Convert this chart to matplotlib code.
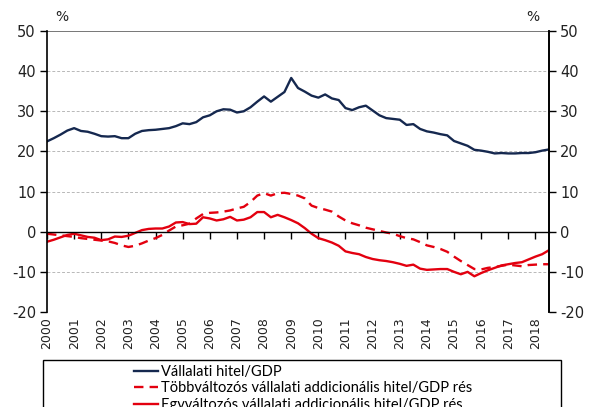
import numpy as np
import matplotlib.pyplot as plt
from matplotlib.patches import Rectangle

# quarterly data, 2000Q1 - 2018Q3
years = [str(y) for y in range(2000, 2019)]

hitel_gdp = [22.5, 23.3, 24.2, 25.2, 25.8, 25.1, 24.9, 24.4, 23.8, 23.7,
             23.8, 23.3, 23.3, 24.4, 25.1, 25.3, 25.4, 25.6, 25.8, 26.3,
             27.0, 26.8, 27.3, 28.5, 29.0, 30.0, 30.5, 30.4, 29.7, 30.0,
             31.0, 32.4, 33.7, 32.4, 33.6, 34.8, 38.3, 35.8, 34.9, 33.9,
             33.4, 34.2, 33.2, 32.8, 30.8, 30.3, 31.0, 31.4, 30.2, 29.0,
             28.3, 28.1, 27.9, 26.6, 26.8, 25.6, 25.0, 24.7, 24.3, 24.0,
             22.6, 22.0, 21.4, 20.4, 20.2, 19.9, 19.5, 19.6, 19.5, 19.5,
             19.6, 19.6, 19.8, 20.2, 20.5]

tobbvaltozos = [-0.5, -0.7, -0.9, -1.1, -1.3, -1.6, -1.8, -2.0, -2.2, -2.4,
                -2.8, -3.4, -3.8, -3.5, -2.9, -2.2, -1.6, -0.8, 0.3, 1.3,
                1.6, 2.0, 3.3, 4.4, 4.7, 4.8, 5.0, 5.3, 5.8, 6.2,
                7.4, 9.0, 9.6, 9.0, 9.6, 9.7, 9.4, 9.0, 8.3, 6.5,
                5.9, 5.5, 5.0, 3.8, 2.8, 2.1, 1.6, 1.0, 0.6, 0.2,
                -0.2, -0.5, -1.1, -1.6, -1.9, -2.6, -3.4, -3.8, -4.3, -5.0,
                -6.2, -7.3, -8.3, -9.3, -9.4, -9.0, -8.8, -8.5, -8.2, -8.4,
                -8.6, -8.3, -8.2, -8.1, -8.1]

egyvaltozos = [-2.5, -2.0, -1.4, -0.8, -0.5, -0.9, -1.3, -1.5, -2.1, -1.9,
               -1.2, -1.3, -1.0, -0.3, 0.4, 0.7, 0.8, 0.8, 1.3, 2.3,
               2.4, 1.9, 2.0, 3.6, 3.3, 2.8, 3.1, 3.7, 2.8, 3.0,
               3.6, 4.9, 4.9, 3.6, 4.2, 3.6, 2.9, 2.1, 0.9, -0.5,
               -1.6, -2.1, -2.7, -3.5, -4.9, -5.3, -5.6, -6.3, -6.8, -7.1,
               -7.3, -7.6, -8.0, -8.5, -8.2, -9.2, -9.5, -9.4, -9.3, -9.3,
               -10.0, -10.6, -10.0, -11.1, -10.3, -9.6, -9.0, -8.4, -8.1, -7.8,
               -7.6, -6.9, -6.2, -5.6, -4.6]

NAVY = '#15284f'
RED = '#e3000f'

x = np.arange(len(hitel_gdp))

fig = plt.figure(figsize=(5.93, 4.07), dpi=100)
ax = fig.add_axes([47/593, 1 - 312/407, 502/593, 281/407])

ax.plot(x, hitel_gdp, color=NAVY, lw=1.7, label='Vállalati hitel/GDP')
ax.plot(x, tobbvaltozos, color=RED, lw=1.7, dashes=(4, 2.6),
        label='Többváltozós vállalati addicionális hitel/GDP rés')
ax.plot(x, egyvaltozos, color=RED, lw=1.7,
        label='Egyváltozós vállalati addicionális hitel/GDP rés')

ax.set_xlim(0, len(x) - 1)
ax.set_ylim(-20, 50)

# grid
for v in [-20, -10, 10, 20, 30, 40]:
    ax.axhline(v, color='#b8b8b8', lw=0.7, ls=(0, (3, 2)), zorder=0)
ax.axhline(50, color='#606060', lw=1.2, zorder=0)

# x axis sits on zero line
ax.spines['bottom'].set_position(('data', 0))
ax.spines['bottom'].set_linewidth(1.0)
ax.spines['top'].set_visible(False)
ax.spines['left'].set_linewidth(1.2)
ax.spines['right'].set_linewidth(1.2)
ax.set_xticks(x[::4])
ax.tick_params(axis='x', direction='out', length=5, width=1, labelbottom=False)

sec = ax.secondary_xaxis(0)
sec.set_xticks(x[::4])
sec.set_xticklabels(years, rotation=90, fontsize=9, color='#222222')
sec.tick_params(length=0, pad=4)
sec.spines['bottom'].set_visible(False)

ticks = np.arange(-20, 51, 10)
ax.set_yticks(ticks)
ax.set_yticklabels([str(t) for t in ticks], fontsize=10.5, color='#222222')
ax.tick_params(axis='y', direction='out', length=5, width=1, pad=3)
ax2 = ax.twinx()
ax2.set_ylim(ax.get_ylim())
ax2.set_yticks(ticks)
ax2.set_yticklabels([str(t) for t in ticks], fontsize=10.5, color='#222222')
ax2.tick_params(axis='y', direction='out', length=5, width=1, pad=3)
for s in ['top', 'left', 'bottom']:
    ax2.spines[s].set_visible(False)
ax2.spines['right'].set_linewidth(1.2)

fig.text(62/593, 1 - 17/407, '%', fontsize=10, ha='center', va='center', color='#222222')
fig.text(533/593, 1 - 17/407, '%', fontsize=10, ha='center', va='center', color='#222222')

# legend box runs off the bottom edge
fig.patches.append(Rectangle((43/593, -0.05), 518/593, 0.05 + 1 - 360/407,
                             transform=fig.transFigure, fill=False,
                             edgecolor='black', lw=1.0))
handles, labels = ax.get_legend_handles_labels()
fig.legend(handles, labels, loc='upper center', bbox_to_anchor=(303/593, 1 - 358/407),
           frameon=False, prop={'family': 'Lato', 'size': 10.5},
           handlelength=1.7, handletextpad=0.2, labelspacing=0.15, borderpad=0)

fig.savefig('out.png', dpi=100)
